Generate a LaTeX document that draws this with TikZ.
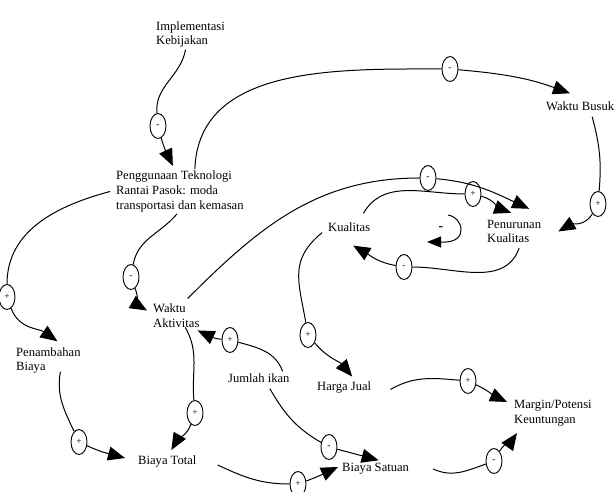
\documentclass[tikz,border=0pt]{standalone}
\usepackage{fontspec}
\setmainfont{Liberation Serif}
\usetikzlibrary{shapes, arrows.meta, positioning, calc}

\begin{document}
\begin{tikzpicture}[
    x=1pt, y=1pt,
    var/.style={anchor=west, align=left, inner sep=2pt, font=\fontsize{12.6}{14.6}\selectfont},
    pol/.style={ellipse, draw, line width=0.9pt, fill=white, minimum width=16pt, minimum height=25pt, inner sep=0pt, font=\fontsize{9.5}{9.5}\selectfont},
    link/.style={line width=1pt},
    >={Triangle[length=17pt, width=14pt]}
]
    \useasboundingbox (0,0) rectangle (614,492);

    % Variabel
    \node[var] (impl) at (154,457.5) {Implementasi\\Kebijakan};
    \node[var] (pengg) at (114,300.5) {Penggunaan Teknologi\\Rantai Pasok: moda\\transportasi dan kemasan};
    \node[var] (busuk) at (544,386) {Waktu Busuk};
    \node[var] (kual) at (326,265) {Kualitas};
    \node[var] (penur) at (485,260.5) {Penurunan\\Kualitas};
    \node[var] (waktu) at (151,176.5) {Waktu\\Aktivitas};
    \node[var] (penamb) at (14,131.5) {Penambahan\\Biaya};
    \node[var] (jumlah) at (226,114) {Jumlah ikan};
    \node[var] (harga) at (315,104.5) {Harga Jual};
    \node[var] (margin) at (512,79) {Margin/Potensi\\Keuntungan};
    \node[var] (total) at (136,31) {Biaya Total};
    \node[var] (satuan) at (340,23) {Biaya Satuan};

    % Polaritas
    \node[pol] (p1) at (158,366) {-};
    \node[pol] (p2) at (450,423) {-};
    \node[pol] (p3) at (7,195) {+};
    \node[pol] (p4) at (131,215) {-};
    \node[pol] (p5) at (428,314) {-};
    \node[pol] (p6) at (473,298) {+};
    \node[pol] (p7) at (404,225) {-};
    \node[pol] (p8) at (598,288) {+};
    \node[pol] (p9) at (308,157) {+};
    \node[pol] (p10) at (230,152) {+};
    \node[pol] (p11) at (329,45) {-};
    \node[pol] (p12) at (195,79) {+};
    \node[pol] (p13) at (79,50) {+};
    \node[pol] (p14) at (298,8) {+};
    \node[pol] (p15) at (468,111) {+};
    \node[pol] (p16) at (494,31) {-};

    % Implementasi -> Penggunaan
    \draw[link] ([xshift=-5pt]impl.south) to[out=-100, in=95] (p1);
    \draw[link,->] (p1) to[out=-75, in=115] ([xshift=-7pt,yshift=3pt]pengg.north);

    % Penggunaan -> Waktu Busuk
    \draw[link] ([xshift=15pt]pengg.north) to[out=88, in=180] (p2);
    \draw[link,->] (p2) to[out=-5, in=160] ([xshift=26pt,yshift=6pt]busuk.north west);

    % Penggunaan -> Penambahan Biaya
    \draw[link] ([xshift=-4pt]pengg.west) to[out=195, in=90] (p3);
    \draw[link,->] (p3) to[out=-70, in=145] ([xshift=9pt,yshift=4pt]penamb.north);

    % Penggunaan -> Waktu Aktivitas
    \draw[link] ([xshift=-3pt]pengg.south) to[out=230, in=80] (p4);
    \draw[link,->] (p4) to[out=-70, in=150] ([xshift=-4pt,yshift=5pt]waktu.west);

    % Waktu Aktivitas -> Penurunan Kualitas
    \draw[link] ([xshift=-14pt,yshift=3pt]waktu.north east) to[out=45, in=180] (p5);
    \draw[link,->] (p5) to[out=-5, in=155] ([xshift=15pt,yshift=9pt]penur.north);

    % Kualitas -> Penurunan Kualitas
    \draw[link] ([xshift=-9pt,yshift=7pt]kual.north east) to[out=60, in=180] (p6);
    \draw[link,->] (p6) to[out=-15, in=160] ([xshift=-3pt,yshift=5pt]penur.north);

    % Penurunan Kualitas -> Kualitas
    \draw[link] ([xshift=5pt,yshift=-3pt]penur.south) to[out=-110, in=0] (p7);
    \draw[link,->] (p7) to[out=170, in=-30] ([xshift=4pt,yshift=-12pt]kual.south);

    % Waktu Busuk -> Penurunan Kualitas
    \draw[link] ([xshift=12pt,yshift=-4pt]busuk.south) to[out=-75, in=85] (p8);
    \draw[link,->] (p8) to[out=-120, in=30] ([xshift=15pt]penur.east);

    % Kualitas -> Harga Jual
    \draw[link] ([xshift=-4pt,yshift=1pt]kual.south west) to[out=220, in=100, looseness=1.2] (p9);
    \draw[link,->] (p9) to[out=-50, in=130] ([xshift=8pt,yshift=3pt]harga.north);

    % Jumlah ikan -> Waktu Aktivitas
    \draw[link] ([xshift=-9pt]jumlah.north east) to[out=110, in=-15] (p10);
    \draw[link,->] (p10) to[out=175, in=-25] ([xshift=-4pt,yshift=-1pt]waktu.south east);

    % Jumlah ikan -> Biaya Satuan
    \draw[link] ([xshift=11pt,yshift=-4pt]jumlah.south) to[out=-60, in=150] (p11);
    \draw[link,->] (p11) to[out=-15, in=165] ([xshift=3pt,yshift=1pt]satuan.north);

    % Waktu Aktivitas -> Biaya Total
    \draw[link] ([xshift=9pt,yshift=2pt]waktu.south) to[out=-60, in=95] (p12);
    \draw[link,->] (p12) to[out=-110, in=60] ([xshift=4pt,yshift=3pt]total.north);

    % Penambahan Biaya -> Biaya Total
    \draw[link] ([xshift=12pt,yshift=4pt]penamb.south) to[out=-100, in=115] (p13);
    \draw[link,->] (p13) to[out=-25, in=165] ([xshift=-11pt,yshift=3pt]total.west);

    % Biaya Total -> Biaya Satuan
    \draw[link] ([xshift=19pt,yshift=-4pt]total.east) to[out=-25, in=180] (p14);
    \draw[link,->] (p14) to[out=20, in=205] ([xshift=-2pt,yshift=2pt]satuan.west);

    % Harga Jual -> Margin
    \draw[link] ([xshift=17pt,yshift=-2pt]harga.east) to[out=30, in=175] (p15);
    \draw[link,->] (p15) to[out=-25, in=155] ([xshift=-5pt,yshift=-4pt]margin.north west);

    % Biaya Satuan -> Margin
    \draw[link] ([xshift=22pt]satuan.east) to[out=-25, in=200] (p16);
    \draw[link,->] (p16) to[out=60, in=235] ([xshift=5pt,yshift=-5pt]margin.south west);

    % Loop
    \node[font=\bfseries\fontsize{14}{14}\selectfont, inner sep=0pt] (loopsign) at (441,263) {-};
    \coordinate (lp1) at ([xshift=7pt,yshift=14pt]loopsign.center);
    \coordinate (lp2) at ([xshift=20pt,yshift=-1pt]loopsign.center);
    \coordinate (lp3) at ([xshift=-14pt,yshift=-13pt]loopsign.center);
    \draw[link,-{Triangle[length=14pt, width=11pt]}] (lp1) to[out=-10, in=90] (lp2) to[out=-90, in=0] (lp3);
\end{tikzpicture}
\end{document}
